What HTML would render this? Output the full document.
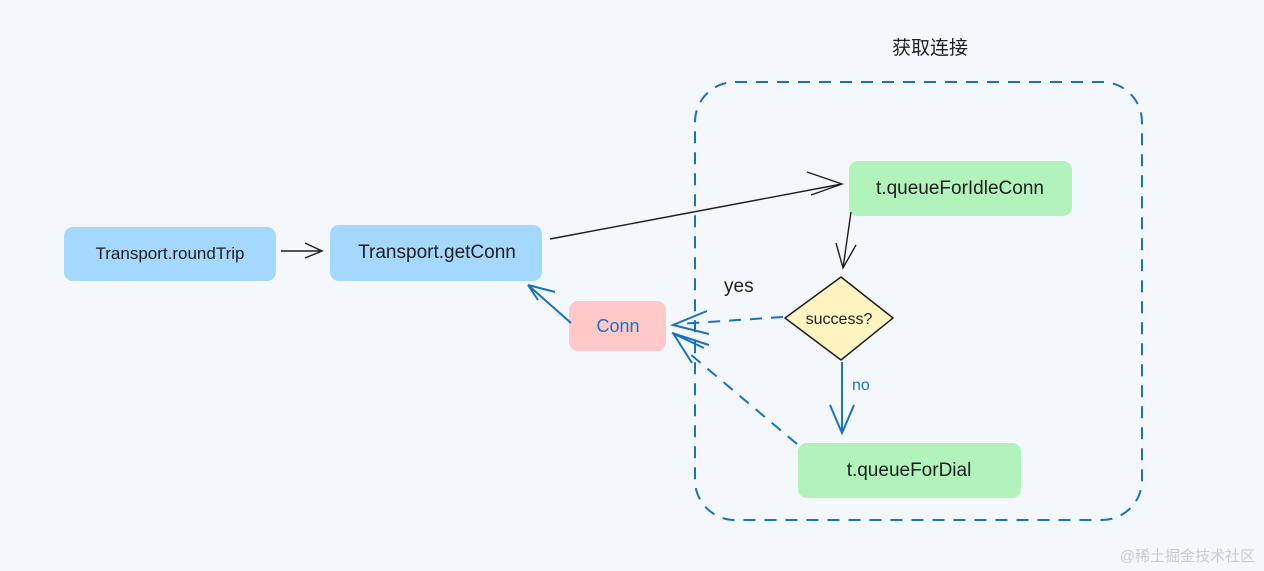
<!DOCTYPE html>
<html><head><meta charset="utf-8"><style>
html,body{margin:0;padding:0;background:#f4f8fd;}
svg{display:block}
text{font-family:"Liberation Sans","Noto Sans CJK SC",sans-serif;}
</style></head><body>
<svg width="1264" height="571" viewBox="0 0 1264 571">
<rect width="1264" height="571" fill="#f4f8fd"/>
<text x="930" y="54" font-size="19" fill="#1e1e1e" text-anchor="middle">获取连接</text>
<rect x="695" y="82" width="447" height="438" rx="40" fill="none" stroke="#1971c2" stroke-width="2" stroke-dasharray="12 9"/>
<rect x="64" y="227" width="212" height="54" rx="9" fill="#a5d8ff"/>
<text x="170" y="259" font-size="17" fill="#1e1e1e" text-anchor="middle">Transport.roundTrip</text>
<rect x="330" y="225" width="212" height="56" rx="9" fill="#a5d8ff"/>
<text x="437" y="258" font-size="19" fill="#1e1e1e" text-anchor="middle">Transport.getConn</text>
<rect x="849" y="161" width="223" height="55" rx="9" fill="#b2f2bb"/>
<text x="960" y="194" font-size="19" fill="#1e1e1e" text-anchor="middle">t.queueForIdleConn</text>
<rect x="798" y="443" width="223" height="55" rx="9" fill="#b2f2bb"/>
<text x="909" y="476" font-size="19" fill="#1e1e1e" text-anchor="middle">t.queueForDial</text>
<rect x="569" y="301" width="97" height="50" rx="9" fill="#ffc9c9"/>
<text x="618" y="332" font-size="18" fill="#1971c2" text-anchor="middle">Conn</text>
<path d="M841 277 L893 318 L841 360 L785 318 Z" fill="#fff3bf" stroke="#1e1e1e" stroke-width="1.5" stroke-linejoin="round"/>
<text x="839" y="324" font-size="16" fill="#1e1e1e" text-anchor="middle">success?</text>
<g stroke="#1e1e1e" stroke-width="1.4" fill="none">
<path d="M281 251 L322 251 M305 243 L322 251 L305 258"/>
<path d="M550 239 L842 184 M807 172 L842 184 L811 195"/>
<path d="M851 212 L843 268 M836 243 L843 268 L856 245"/>
</g>
<text x="724" y="292" font-size="19" fill="#1e1e1e">yes</text>
<text x="852" y="390" font-size="16" fill="#1971c2">no</text>
<g stroke="#1971c2" stroke-width="2" fill="none">
<path d="M783 317 L678 324" stroke-dasharray="12 9"/>
<path d="M797 444 L690 354" stroke-dasharray="12 9"/>
<path d="M707 311 L673 325 L709 334 M704 348 L672 333 L709 345 M673 333 L692 363"/>
<path d="M842 362 L842 433 M830 405 L842 433 L854 405"/>
<path d="M571 323 L528 285 M528 285 L555 292 M528 285 L538 300"/>
</g>
<text x="1255" y="561" font-size="15" fill="#c8ccd2" text-anchor="end">@稀土掘金技术社区</text>
</svg>
</body></html>
